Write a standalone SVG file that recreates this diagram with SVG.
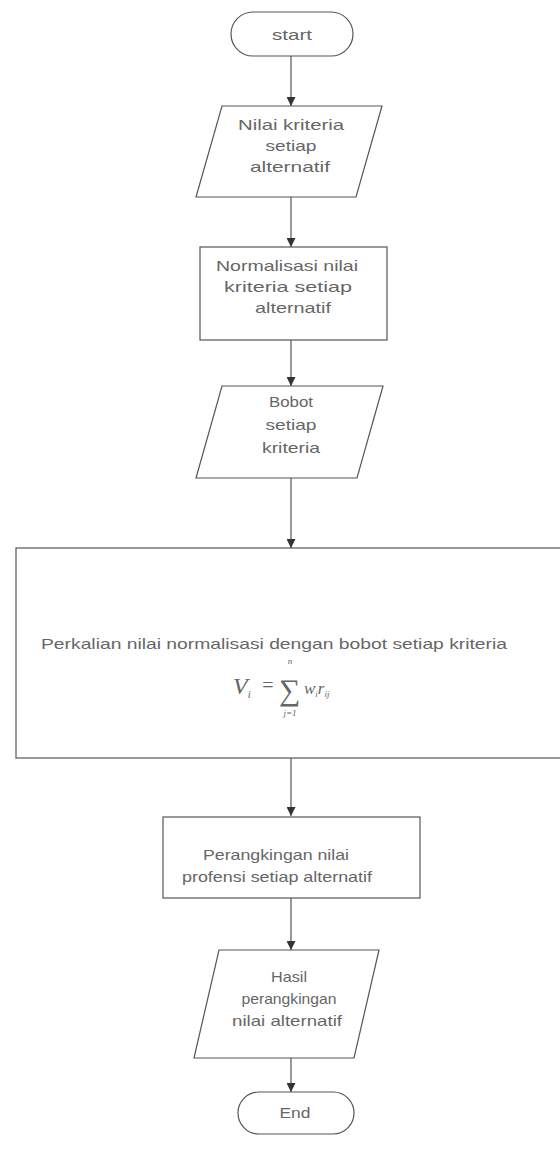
<svg xmlns="http://www.w3.org/2000/svg" width="560" height="1153" viewBox="0 0 560 1153">
<defs>
<style>
.s{fill:none;stroke:#555;stroke-width:1.2}
.t{font-family:"Liberation Sans",Arial,sans-serif;font-size:15px;fill:#666;text-anchor:middle}
.c{stroke:#555;stroke-width:1.2;fill:none}
.m{font-family:"Liberation Serif","Times New Roman",serif;fill:#666;font-style:italic}
</style>
<marker id="ah" viewBox="0 0 10 10" refX="10" refY="5" markerWidth="9" markerHeight="9" markerUnits="userSpaceOnUse" orient="auto">
<path d="M0,0 L10,5 L0,10 z" fill="#333"/>
</marker>
</defs>
<rect width="560" height="1153" fill="#fff"/>
<g id="connectors">
<line class="c" x1="291" y1="56" x2="291" y2="106" marker-end="url(#ah)"/>
<line class="c" x1="291" y1="197" x2="291" y2="247" marker-end="url(#ah)"/>
<line class="c" x1="291" y1="340" x2="291" y2="386" marker-end="url(#ah)"/>
<line class="c" x1="291" y1="478" x2="291" y2="548" marker-end="url(#ah)"/>
<line class="c" x1="291" y1="758" x2="291" y2="816" marker-end="url(#ah)"/>
<line class="c" x1="291" y1="898" x2="291" y2="950" marker-end="url(#ah)"/>
<line class="c" x1="291" y1="1058" x2="291" y2="1092" marker-end="url(#ah)"/>
</g>
<g id="start">
<rect class="s" x="231" y="12" width="122" height="44" rx="22"/>
<text class="t" x="292" y="40" textLength="40" lengthAdjust="spacingAndGlyphs">start</text>
</g>
<g id="input-nilai">
<polygon class="s" points="222,106 382,106 356,197 196,197"/>
<text class="t" x="291" y="130" textLength="106" lengthAdjust="spacingAndGlyphs">Nilai kriteria</text>
<text class="t" x="291" y="151" textLength="51" lengthAdjust="spacingAndGlyphs">setiap</text>
<text class="t" x="290" y="172" textLength="80" lengthAdjust="spacingAndGlyphs">alternatif</text>
</g>
<g id="normalisasi">
<rect class="s" x="200" y="247" width="187" height="93"/>
<text class="t" x="287" y="271" textLength="142" lengthAdjust="spacingAndGlyphs">Normalisasi nilai</text>
<text class="t" x="288" y="292" textLength="128" lengthAdjust="spacingAndGlyphs">kriteria setiap</text>
<text class="t" x="293" y="313" textLength="76" lengthAdjust="spacingAndGlyphs">alternatif</text>
</g>
<g id="input-bobot">
<polygon class="s" points="222,386 383,386 357,478 196,478"/>
<text class="t" x="291" y="407" textLength="44" lengthAdjust="spacingAndGlyphs">Bobot</text>
<text class="t" x="291" y="430" textLength="51" lengthAdjust="spacingAndGlyphs">setiap</text>
<text class="t" x="291" y="453" textLength="58" lengthAdjust="spacingAndGlyphs">kriteria</text>
</g>
<g id="perkalian">
<rect class="s" x="16" y="548" width="560" height="210"/>
<text class="t" x="274" y="649" textLength="466" lengthAdjust="spacingAndGlyphs">Perkalian nilai normalisasi dengan bobot setiap kriteria</text>
<text class="m" x="233" y="694" font-size="24">V<tspan font-size="11" dy="4">i</tspan></text>
<text class="m" x="261" y="692" font-size="20" font-style="normal">=</text>
<text class="m" x="279" y="700" font-size="30" font-style="normal">∑</text>
<text class="m" x="290" y="664" font-size="9" text-anchor="middle">n</text>
<text class="m" x="290" y="716" font-size="9" text-anchor="middle">j=1</text>
<text class="m" x="304" y="694" font-size="17">w<tspan font-size="9" dy="3">i</tspan><tspan dy="-3">r</tspan><tspan font-size="9" dy="3">ij</tspan></text>
</g>
<g id="perangkingan">
<rect class="s" x="163" y="817" width="257" height="81"/>
<text class="t" x="276" y="860" textLength="146" lengthAdjust="spacingAndGlyphs">Perangkingan nilai</text>
<text class="t" x="277" y="882" textLength="190" lengthAdjust="spacingAndGlyphs">profensi setiap alternatif</text>
</g>
<g id="output-hasil">
<polygon class="s" points="219,950 379,950 354,1058 194,1058"/>
<text class="t" x="289" y="982" textLength="36" lengthAdjust="spacingAndGlyphs">Hasil</text>
<text class="t" x="289" y="1004" textLength="95" lengthAdjust="spacingAndGlyphs">perangkingan</text>
<text class="t" x="287" y="1026" textLength="110" lengthAdjust="spacingAndGlyphs">nilai alternatif</text>
</g>
<g id="end">
<rect class="s" x="238" y="1092" width="116" height="42" rx="21"/>
<text class="t" x="295" y="1118" textLength="31" lengthAdjust="spacingAndGlyphs">End</text>
</g>
</svg>
